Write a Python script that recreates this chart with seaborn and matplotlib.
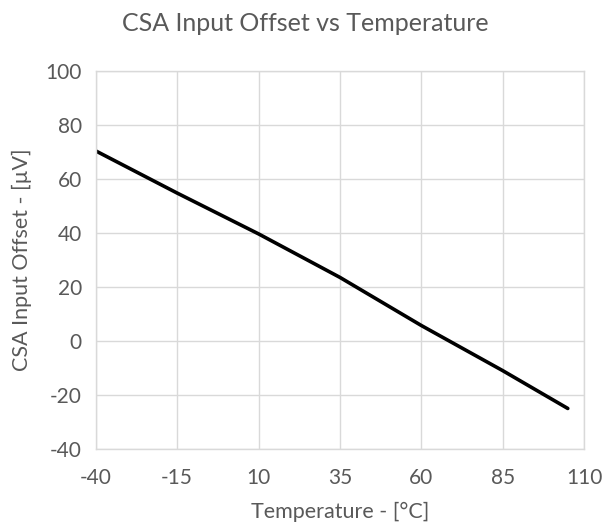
import matplotlib
matplotlib.use("Agg")
import matplotlib.pyplot as plt
import seaborn as sns
import pandas as pd

temperature = [-40, -15, 10, 35, 60, 85, 105]
offset_uv = [70.3, 54.7, 39.6, 23.5, 5.7, -11.0, -25.0]
x_ticks = [-40, -15, 10, 35, 60, 85, 110]
y_ticks = [-40, -20, 0, 20, 40, 60, 80, 100]

sns.set_theme(style="white")
plt.rcParams['font.family'] = ['Lato', 'DejaVu Sans']
plt.rcParams['axes.unicode_minus'] = False
txt = "#595959"

df = pd.DataFrame({"t": temperature, "v": offset_uv})
fig = plt.figure(figsize=(6.04, 5.27), dpi=100)
ax = fig.add_axes([0.1585, 0.148, 0.8085, 0.718])
sns.lineplot(data=df, x="t", y="v", ax=ax, color="black", linewidth=2.6)
ax.set_xlim(-40, 110)
ax.set_ylim(-40, 100)
ax.set_xticks(x_ticks)
ax.set_yticks(y_ticks)
ax.grid(True, color="#d9d9d9", linewidth=1)
for s in ax.spines.values():
    s.set_color("#d9d9d9")
    s.set_linewidth(1)
ax.tick_params(axis="y", length=0, labelsize=15, colors=txt, pad=10)
ax.tick_params(axis="x", length=0, labelsize=15, colors=txt, pad=14)
ax.set_xlabel("Temperature - [°C]", fontsize=15.5, color=txt, labelpad=10)
ax.set_ylabel("CSA Input Offset - [µV]", fontsize=15.5, color=txt, labelpad=10)
fig.text(0.505, 0.956, "CSA Input Offset vs Temperature", ha="center", va="center",
         fontsize=18, color=txt)
fig.savefig("out.png", dpi=100)
